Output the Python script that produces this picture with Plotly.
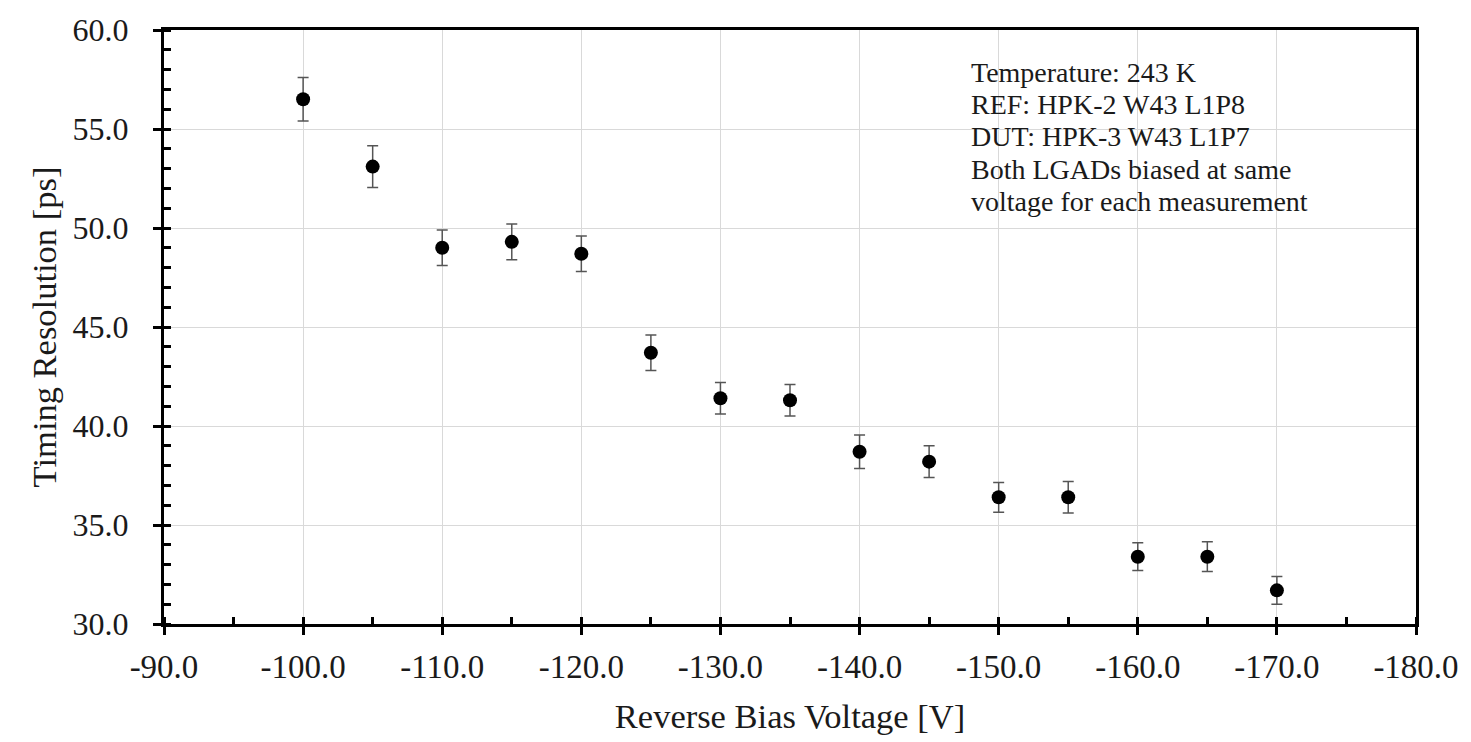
import plotly.graph_objects as go

voltage = [-100, -105, -110, -115, -120, -125, -130, -135, -140, -145, -150, -155, -160, -165, -170]
timing_res = [56.5, 53.1, 49.0, 49.3, 48.7, 43.7, 41.4, 41.3, 38.7, 38.2, 36.4, 36.4, 33.4, 33.4, 31.7]
timing_err = [1.1, 1.05, 0.9, 0.9, 0.9, 0.9, 0.8, 0.8, 0.85, 0.8, 0.75, 0.8, 0.7, 0.75, 0.7]

x_tick_vals = [-90, -100, -110, -120, -130, -140, -150, -160, -170, -180]
x_tick_text = ["-90.0", "-100.0", "-110.0", "-120.0", "-130.0", "-140.0", "-150.0", "-160.0", "-170.0", "-180.0"]
y_tick_vals = [30, 35, 40, 45, 50, 55, 60]
y_tick_text = ["30.0", "35.0", "40.0", "45.0", "50.0", "55.0", "60.0"]

x_range = [-90, -180]
y_range = [30, 60]

info_lines = [
    "Temperature: 243 K",
    "REF: HPK-2 W43 L1P8",
    "DUT: HPK-3 W43 L1P7",
    "Both LGADs biased at same",
    "voltage for each measurement",
]

FONT = "Liberation Serif"
TXT = "#1a1a1a"

fig = go.Figure()
fig.add_trace(go.Scatter(
    x=voltage, y=timing_res, mode="markers",
    marker=dict(color="black", size=14),
    error_y=dict(type="data", array=timing_err, color="#555555", thickness=1.5, width=5.5),
    showlegend=False,
))

info_text = "<br>".join('<span style="font-size:28px">' + ln + "</span>" for ln in info_lines)

fig.update_layout(
    width=1471, height=742,
    margin=dict(l=164, r=50, t=25, b=118),
    paper_bgcolor="white", plot_bgcolor="white",
    font=dict(family=FONT, color=TXT),
    xaxis=dict(
        range=x_range, tickmode="array", tickvals=x_tick_vals, ticktext=x_tick_text,
        showline=True, linecolor="black", linewidth=3, mirror=True,
        ticks="outside", ticklen=8, tickwidth=3, tickcolor="black",
        showgrid=True, gridcolor="#d9d9d9", gridwidth=1, zeroline=False,
        tickfont=dict(family=FONT, size=33, color=TXT), ticklabelstandoff=3,
        minor=dict(ticks="inside", dtick=5, tick0=-90, ticklen=7, tickwidth=3, tickcolor="black", showgrid=False),
        title=dict(text="Reverse Bias Voltage [V]", font=dict(family=FONT, size=34.5, color=TXT), standoff=21),
    ),
    yaxis=dict(
        range=y_range, tickmode="array", tickvals=y_tick_vals, ticktext=y_tick_text,
        showline=True, linecolor="black", linewidth=3, mirror=True,
        ticks="outside", ticklen=8, tickwidth=3, tickcolor="black",
        showgrid=True, gridcolor="#d9d9d9", gridwidth=1, zeroline=False,
        tickfont=dict(family=FONT, size=32, color=TXT), ticklabelstandoff=18,
        minor=dict(ticks="inside", dtick=1, tick0=30, ticklen=7, tickwidth=3, tickcolor="black", showgrid=False),
        title=dict(text="Timing Resolution [ps]", font=dict(family=FONT, size=34.5, color=TXT), standoff=6),
    ),
    xaxis2=dict(
        overlaying="x", matches="x", range=x_range, side="bottom", anchor="y",
        tickmode="array", tickvals=x_tick_vals, ticks="inside", ticklen=8, tickwidth=3, tickcolor="black",
        showticklabels=False, showgrid=False, showline=False, zeroline=False,
    ),
    yaxis2=dict(
        overlaying="y", matches="y", range=y_range, side="left", anchor="x",
        tickmode="array", tickvals=y_tick_vals, ticks="inside", ticklen=8, tickwidth=3, tickcolor="black",
        showticklabels=False, showgrid=False, showline=False, zeroline=False,
    ),
    annotations=[dict(
        xref="paper", yref="paper", x=0.643, y=0.958, xanchor="left", yanchor="top",
        align="left", showarrow=False, text=info_text,
        font=dict(family=FONT, size=24.8, color=TXT),
    )],
)

fig.write_html("out.html")
